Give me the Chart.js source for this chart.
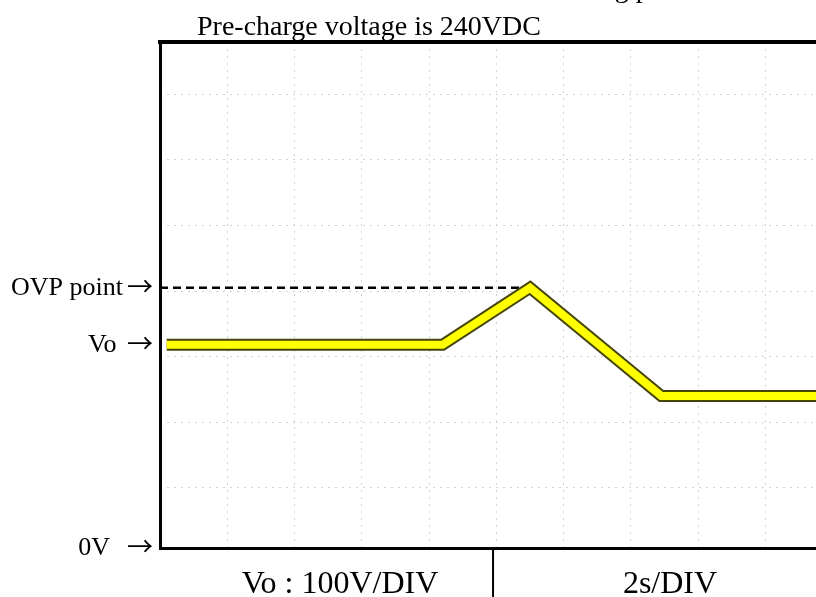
<!DOCTYPE html>
<html>
<head>
<meta charset="utf-8">
<script src="https://cdn.jsdelivr.net/npm/chart.js@4.4.1/dist/chart.umd.min.js"></script>
<style>
    html, body { margin: 0; padding: 0; background: #fff; }
    #wrap { width: 816px; height: 597px; }
</style>
</head>
<body>
<div id="wrap"><canvas id="myChart" width="816" height="597"></canvas></div>
<script>
// ===== data (time in s, voltage in V) =====
const traceTime = [0.2, 8.4, 11.0, 14.9, 19.5]
const traceVolts = [310, 310, 397, 232, 232]
const ovpTime = [0, 11.0]
const ovpVolts = [397, 397]

// left side markers (arrow drawn separately)
const levelValues = [0, 310, 397]
const levelLabels = ['0V  ', 'Vo ', 'OVP point']

// scope graticule (2s/DIV and 100V/DIV, grid is offset from 0V)
const gridVolts = [92, 192, 292, 392, 492, 592, 692]
const timeMax = 19.5
const voltMax = 772
const cellSplit = 9.9
const cellLabels = ['Vo : 100V/DIV', '2s/DIV']
const titleText = 'Pre-charge voltage is 240VDC'
const cutText = 'OVP setting point'

const serif = "'Liberation Serif', 'Times New Roman', serif"
const gridColor = '#d4d4d4'

function toPoints(xs, ys) {
    return xs.map((x, i) => ({ x: x, y: ys[i] }))
}

// ===== texts that sit outside the axes =====
const scopeText = {
    id: 'scopeText',
    afterDraw(chart) {
        const { ctx, chartArea, scales } = chart
        ctx.save()
        ctx.fillStyle = '#000'
        ctx.textBaseline = 'alphabetic'
        ctx.textAlign = 'left'
        ctx.font = '28px ' + serif
        ctx.fillText(titleText, 197, 35)
        ctx.fillText(cutText, 491, -3)

        // arrows pointing at the levels
        ctx.font = "26px 'Noto Sans CJK SC'"
        ctx.textAlign = 'right'
        ctx.textBaseline = 'middle'
        levelValues.forEach(v => {
            ctx.fillText('\u2192', chartArea.left - 7, scales.y.getPixelForValue(v) - 2)
        })

        // divider between the two cells under the screen
        const xd = scales.x.getPixelForValue(cellSplit)
        ctx.strokeStyle = '#000'
        ctx.lineWidth = 2
        ctx.beginPath()
        ctx.moveTo(xd, chartArea.bottom)
        ctx.lineTo(xd, chart.height)
        ctx.stroke()

        ctx.font = '32px ' + serif
        ctx.textAlign = 'center'
        ctx.textBaseline = 'alphabetic'
        ctx.fillText(cellLabels[0], 340, 593)
        ctx.fillText(cellLabels[1], 670, 593)
        ctx.restore()
    }
}

let ctx = document.getElementById('myChart')

let dados = {
    datasets: [
        {
            data: toPoints(traceTime, traceVolts),
            borderColor: '#ffff00',
            borderWidth: 8,
            borderJoinStyle: 'miter',
            pointRadius: 0,
            tension: 0
        },
        {
            data: toPoints(traceTime, traceVolts),
            borderColor: '#45450a',
            borderWidth: 12,
            borderJoinStyle: 'miter',
            pointRadius: 0,
            tension: 0
        },
        {
            data: toPoints(ovpTime, ovpVolts),
            borderColor: '#000',
            borderWidth: 2.5,
            borderDash: [8, 5],
            pointRadius: 0
        }
    ]
}

let opcoes = {
    responsive: false,
    animation: false,
    layout: { padding: 0 },
    plugins: {
        legend: { display: false },
        tooltip: { enabled: false }
    },
    scales: {
        x: {
            type: 'linear',
            position: 'bottom',
            min: 0,
            max: timeMax,
            ticks: { stepSize: 2, display: false },
            grid: { color: gridColor, lineWidth: 1, drawTicks: false },
            border: { display: true, color: '#000', width: 3, dash: [2, 5] },
            afterFit: s => { s.height = 49 }
        },
        xTop: {
            type: 'linear',
            position: 'top',
            min: 0,
            max: timeMax,
            ticks: { display: false },
            grid: { display: false, drawTicks: false },
            border: { display: true, color: '#000', width: 4 },
            afterFit: s => { s.height = 42 }
        },
        y: {
            type: 'linear',
            position: 'left',
            min: 0,
            max: voltMax,
            afterBuildTicks: s => { s.ticks = levelValues.map(v => ({ value: v })) },
            ticks: {
                callback: (v, i) => levelLabels[i],
                font: { family: serif, size: 26 },
                color: '#000',
                padding: 37,
                autoSkip: false
            },
            grid: { display: false, drawTicks: false },
            border: { display: true, color: '#000', width: 3 },
            afterFit: s => {
                s.width = 160
                s.paddingTop = 0
                s.paddingBottom = 0
            }
        },
        yGrid: {
            type: 'linear',
            position: 'right',
            min: 0,
            max: voltMax,
            afterBuildTicks: s => { s.ticks = gridVolts.map(v => ({ value: v })) },
            ticks: { display: false },
            grid: { color: gridColor, lineWidth: 1, drawTicks: false },
            border: { display: false, dash: [2, 5] },
            afterFit: s => { s.width = 0 }
        }
    }
}

let scopeChart = new Chart(ctx, {
    type: 'line',
    data: dados,
    options: opcoes,
    plugins: [scopeText]
})
</script>
</body>
</html>
